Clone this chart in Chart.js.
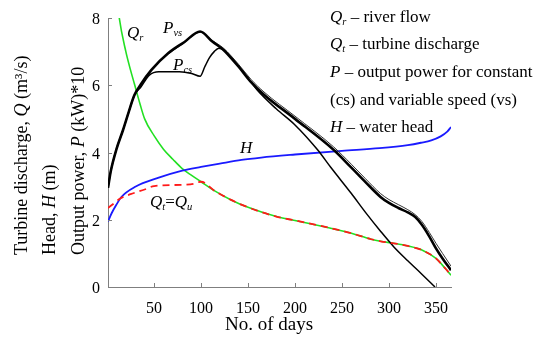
<!DOCTYPE html>
<html>
<head>
<meta charset="utf-8">
<script src="https://cdn.jsdelivr.net/npm/chart.js@4.4.1/dist/chart.umd.min.js"></script>
<style>
  html, body { margin: 0; padding: 0; background: #fff; }
  canvas { display: block; }
</style>
</head>
<body>
<canvas id="chart" width="550" height="339"></canvas>
<script>
// Values: day of the year -> value
const xTicks = [50, 100, 150, 200, 250, 300, 350];
const yTicks = [0, 2, 4, 6, 8];

// Qr - river flow
const qrDays = [8, 13, 20, 25, 29, 35, 40, 50, 60, 70, 80, 90, 100, 115, 132, 150, 182, 200, 230, 260, 281, 291, 305, 320, 335, 350, 360, 366];
const qrVals = [9.3, 8.0, 7.0, 6.45, 6.05, 5.45, 5.0, 4.5, 4.1, 3.8, 3.52, 3.32, 3.13, 2.85, 2.59, 2.37, 2.08, 1.98, 1.8, 1.6, 1.42, 1.36, 1.3, 1.22, 1.1, 0.85, 0.55, 0.35];

// Qt - turbine discharge (equals Qr after ~day 100)
const qtDays = [1, 8, 14, 25, 40, 50, 80, 92, 100, 115, 132, 150, 182, 200, 230, 260, 281, 291, 305, 320, 335, 350, 360, 366];
const qtVals = [2.35, 2.5, 2.63, 2.76, 2.9, 3.0, 3.04, 3.07, 3.13, 2.85, 2.59, 2.37, 2.08, 1.98, 1.8, 1.6, 1.42, 1.36, 1.3, 1.22, 1.1, 0.85, 0.55, 0.35];

// H - water head
const hDays = [1, 5, 10, 15, 30, 55, 80, 100, 120, 143, 164, 200, 250, 290, 320, 334, 345, 355, 362, 366];
const hVals = [1.95, 2.2, 2.45, 2.67, 2.98, 3.25, 3.46, 3.57, 3.67, 3.78, 3.85, 3.94, 4.05, 4.13, 4.22, 4.29, 4.36, 4.48, 4.62, 4.76];

// Pvs - output power, variable speed
const pvsDays = [1, 4, 10, 17, 23, 29, 36, 47, 65, 82, 99, 112, 124, 140, 153, 167, 200, 241, 260, 275, 291, 300, 310, 320, 328, 335, 343, 350, 357, 366];
const pvsVals = [2.95, 3.45, 4.1, 4.67, 5.2, 5.7, 6.03, 6.45, 6.95, 7.28, 7.6, 7.3, 7.05, 6.55, 6.1, 5.72, 5.0, 4.08, 3.55, 3.12, 2.68, 2.5, 2.35, 2.22, 2.08, 1.85, 1.5, 1.15, 0.85, 0.5];

// second Pvs trace, running just beside the first
const pvs2Days = [65, 82, 99, 112, 124, 140, 153, 167, 200, 241, 260, 275, 291, 300, 310, 320, 328, 335, 343, 350, 357, 366];
const pvs2Vals = [6.93, 7.26, 7.58, 7.33, 7.1, 6.62, 6.18, 5.8, 5.08, 4.17, 3.65, 3.22, 2.78, 2.6, 2.45, 2.3, 2.15, 1.95, 1.62, 1.3, 1.0, 0.62];

// Pcs - output power, constant speed
const pcsDays = [1, 4, 10, 17, 23, 29, 36, 45, 55, 77, 90, 99, 104, 109, 114, 119, 124, 130, 145, 160, 180, 200, 224, 238, 260, 275, 291, 305, 320, 335, 349];
const pcsVals = [2.95, 3.45, 4.1, 4.67, 5.2, 5.7, 5.95, 6.3, 6.4, 6.4, 6.35, 6.27, 6.55, 6.82, 7.0, 7.1, 7.05, 6.88, 6.4, 5.85, 5.3, 4.82, 4.08, 3.56, 2.78, 2.22, 1.66, 1.2, 0.78, 0.38, 0];

const SERIF = '"Liberation Serif", "Times New Roman", serif';

function pts(days, vals) {
    return days.map((d, i) => ({ x: d, y: vals[i] }));
}

// draws a run of text pieces: '' normal, 'i' italic, 'is' italic subscript
function richText(ctx, x, y, parts, size) {
    let cx = x;
    parts.forEach(([t, s]) => {
        let fs = size, dy = 0;
        const ital = s.indexOf('i') >= 0;
        if (s.indexOf('s') >= 0) { fs = size * 0.62; dy = size * 0.2; }
        ctx.font = (ital ? 'italic ' : '') + fs + 'px ' + SERIF;
        ctx.fillText(t, cx, y + dy);
        cx += ctx.measureText(t).width;
    });
}

const textPlugin = {
    id: 'figureText',
    afterDraw(chart) {
        const ctx = chart.ctx;
        const xs = chart.scales.x, ys = chart.scales.y;
        ctx.save();

        // inward tick marks
        ctx.strokeStyle = '#7f7f7f';
        ctx.lineWidth = 1;
        ctx.beginPath();
        xTicks.forEach(v => {
            const px = Math.round(xs.getPixelForValue(v)) + 0.5;
            ctx.moveTo(px, ys.bottom);
            ctx.lineTo(px, ys.bottom - 4);
        });
        yTicks.forEach(v => {
            const py = Math.round(ys.getPixelForValue(v)) + 0.5;
            ctx.moveTo(xs.left, py);
            ctx.lineTo(xs.left + 4, py);
        });
        ctx.stroke();

        ctx.fillStyle = '#000';
        ctx.textAlign = 'left';
        ctx.textBaseline = 'alphabetic';

        // legend block at the right
        const lx = 330;
        richText(ctx, lx, 22, [['Q', 'i'], ['r', 'is'], [' \u2013 river flow', '']], 17);
        richText(ctx, lx, 49, [['Q', 'i'], ['t', 'is'], [' \u2013 turbine discharge', '']], 17);
        richText(ctx, lx, 77, [['P', 'i'], [' \u2013 output power for constant', '']], 17);
        richText(ctx, lx, 105, [['(cs) and variable speed (vs)', '']], 17);
        richText(ctx, lx, 132, [['H', 'i'], [' \u2013 water head', '']], 17);

        // curve labels
        richText(ctx, 127, 38, [['Q', 'i'], ['r', 'is']], 17);
        richText(ctx, 163, 33, [['P', 'i'], ['vs', 'is']], 17);
        richText(ctx, 173, 70, [['P', 'i'], ['cs', 'is']], 17);
        richText(ctx, 240, 153, [['H', 'i']], 17);
        richText(ctx, 150, 207, [['Q', 'i'], ['t', 'is'], ['=', ''], ['Q', 'i'], ['u', 'is']], 17);

        // x axis title
        ctx.font = '19px ' + SERIF;
        ctx.textAlign = 'center';
        ctx.fillText('No. of days', 269, 330);

        // three stacked y axis titles, rotated
        ctx.textAlign = 'left';
        const yLines = [
            [27, [['Turbine discharge, ', ''], ['Q', 'i'], [' (m\u00b3/s)', '']]],
            [55, [['Head, ', ''], ['H', 'i'], [' (m)', '']]],
            [84, [['Output power, ', ''], ['P', 'i'], [' (kW)*10', '']]]
        ];
        yLines.forEach(([bx, parts]) => {
            ctx.save();
            ctx.translate(bx, 255);
            ctx.rotate(-Math.PI / 2);
            richText(ctx, 0, 0, parts, 18);
            ctx.restore();
        });

        ctx.restore();
    }
};

new Chart(document.getElementById('chart'), {
    type: 'line',
    data: {
        datasets: [
            {
                label: 'Qr', data: pts(qrDays, qrVals),
                borderColor: '#22e022', borderWidth: 1.6, order: 5
            },
            {
                label: 'Qt', data: pts(qtDays, qtVals),
                borderColor: '#ff1a1a', borderWidth: 1.8, borderDash: [7, 5], order: 0
            },
            {
                label: 'H', data: pts(hDays, hVals),
                borderColor: '#1a1aff', borderWidth: 1.8, order: 3
            },
            {
                label: 'Pcs', data: pts(pcsDays, pcsVals),
                borderColor: '#000', borderWidth: 1.5, order: 2
            },
            {
                label: 'Pvs2', data: pts(pvs2Days, pvs2Vals),
                borderColor: '#333', borderWidth: 1, order: 2
            },
            {
                label: 'Pvs', data: pts(pvsDays, pvsVals),
                borderColor: '#000', borderWidth: 2.6, order: 1
            }
        ]
    },
    options: {
        responsive: false,
        animation: false,
        devicePixelRatio: 1,
        layout: { padding: { left: 0, right: 99, top: 18, bottom: 0 } },
        elements: {
            point: { radius: 0 },
            line: { cubicInterpolationMode: 'monotone', fill: false }
        },
        plugins: {
            legend: { display: false },
            tooltip: { enabled: false }
        },
        scales: {
            x: {
                type: 'linear',
                min: 1,
                max: 366,
                afterFit: s => { s.height = 52; },
                afterBuildTicks: s => { s.ticks = xTicks.map(v => ({ value: v })); },
                grid: { display: false, drawTicks: false },
                border: { display: true, color: '#7f7f7f', width: 1 },
                ticks: {
                    color: '#000', padding: 12, maxRotation: 0, autoSkip: false,
                    font: { family: SERIF, size: 16 }
                }
            },
            y: {
                min: 0,
                max: 8,
                afterFit: s => { s.width = 108; },
                afterBuildTicks: s => { s.ticks = yTicks.map(v => ({ value: v })); },
                grid: { display: false, drawTicks: false },
                border: { display: true, color: '#7f7f7f', width: 1 },
                ticks: {
                    color: '#000', padding: 8, labelOffset: 2,
                    font: { family: SERIF, size: 16 }
                }
            }
        }
    },
    plugins: [textPlugin]
});
</script>
</body>
</html>
